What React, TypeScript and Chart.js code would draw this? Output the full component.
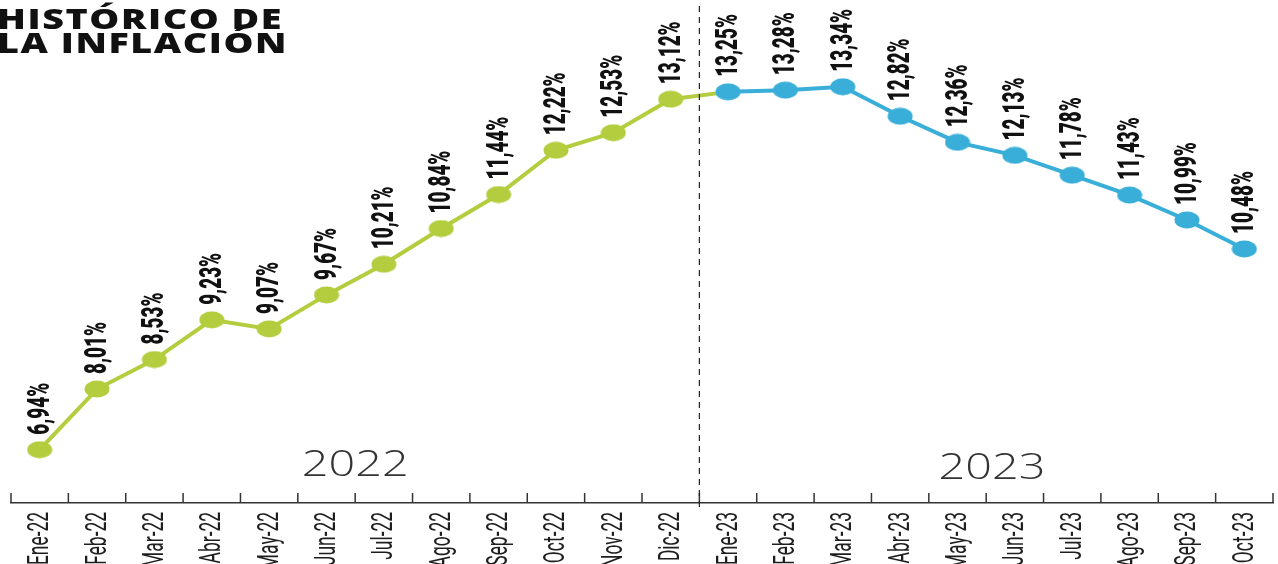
import React, { useEffect, useRef } from "react";
import { Chart, registerables } from "chart.js";

Chart.register(...registerables);

const categories = [
  "Ene-22", "Feb-22", "Mar-22", "Abr-22", "May-22", "Jun-22", "Jul-22", "Ago-22",
  "Sep-22", "Oct-22", "Nov-22", "Dic-22", "Ene-23", "Feb-23", "Mar-23", "Abr-23",
  "May-23", "Jun-23", "Jul-23", "Ago-23", "Sep-23", "Oct-23",
];
const inflation = [
  6.94, 8.01, 8.53, 9.23, 9.07, 9.67, 10.21, 10.84, 11.44, 12.22, 12.53, 13.12,
  13.25, 13.28, 13.34, 12.82, 12.36, 12.13, 11.78, 11.43, 10.99, 10.48,
];
const yearLabels = ["2022", "2023"];
const yearCenters = [5.5, 16.6];
const splitIndex = 12;

const GREEN = "#b3cd3e";
const BLUE = "#38aed8";
const FONT = "Roboto, 'Noto Sans', sans-serif";

function ellipse(color: string): HTMLCanvasElement {
  const c = document.createElement("canvas");
  c.width = 26;
  c.height = 18;
  const g = c.getContext("2d") as CanvasRenderingContext2D;
  g.fillStyle = color;
  g.beginPath();
  g.ellipse(13, 9, 12.5, 8.5, 0, 0, Math.PI * 2);
  g.fill();
  return c;
}

const overlayPlugin = {
  id: "overlay",
  afterDraw(chart: any) {
    const ctx = chart.ctx;
    const xs = chart.scales.x;
    const area = chart.chartArea;
    const n = categories.length;
    const step = (xs.right - xs.left) / n;
    ctx.save();
    // upward ticks at category boundaries
    ctx.strokeStyle = "#333";
    ctx.lineWidth = 1.5;
    for (let i = 0; i <= n; i++) {
      const x = xs.left + i * step;
      ctx.beginPath();
      ctx.moveTo(x, area.bottom - 10);
      ctx.lineTo(x, area.bottom);
      ctx.stroke();
    }
    // dashed divider between years
    const xd = xs.left + splitIndex * step;
    ctx.setLineDash([6, 5]);
    ctx.lineWidth = 1.2;
    ctx.strokeStyle = "#222";
    ctx.beginPath();
    ctx.moveTo(xd, 6);
    ctx.lineTo(xd, area.bottom + 4);
    ctx.stroke();
    ctx.setLineDash([]);
    // category labels, rotated and condensed
    ctx.fillStyle = "#1e1e1e";
    ctx.font = `400 30px ${FONT}`;
    ctx.textAlign = "right";
    ctx.textBaseline = "middle";
    categories.forEach((t, i) => {
      const x = xs.getPixelForTick(i);
      ctx.save();
      ctx.translate(x + 1, area.bottom + 9);
      ctx.rotate(-Math.PI / 2);
      ctx.scale(0.58, 1);
      ctx.fillText(t, 0, 0);
      ctx.restore();
    });
    // year labels
    ctx.fillStyle = "#333";
    ctx.font = "300 36px 'Open Sans', sans-serif";
    ctx.textAlign = "center";
    ctx.textBaseline = "alphabetic";
    yearLabels.forEach((t, i) => {
      const x = xs.left + (yearCenters[i] + 0.5) * step;
      ctx.save();
      ctx.translate(x, area.bottom - 27 + (i === 1 ? 3 : 0));
      ctx.scale(1.3, 1);
      ctx.fillText(t, 0, 0);
      ctx.restore();
    });
    // data labels, rotated
    const meta = chart.getDatasetMeta(0);
    ctx.font = `900 32px ${FONT}`;
    ctx.fillStyle = "#111";
    ctx.textAlign = "left";
    ctx.textBaseline = "middle";
    meta.data.forEach((pt: any, i: number) => {
      const label = inflation[i].toFixed(2).replace(".", ",") + "%";
      ctx.save();
      ctx.translate(pt.x + 1, pt.y - 15);
      ctx.rotate(-Math.PI / 2);
      ctx.scale(0.59, 1);
      ctx.fillText(label, 0, 0);
      ctx.restore();
    });
    ctx.restore();
  },
};

export default function App() {
  const ref = useRef<HTMLCanvasElement | null>(null);
  useEffect(() => {
    document.body.style.margin = "0";
    const styles = inflation.map((_, i) => ellipse(i < splitIndex ? GREEN : BLUE));
    const chart = new Chart(ref.current as HTMLCanvasElement, {
      type: "line",
      data: {
        labels: categories,
        datasets: [
          {
            data: inflation,
            borderColor: GREEN,
            borderWidth: 4,
            pointStyle: styles as any,
            pointRadius: 10,
            pointHoverRadius: 10,
            tension: 0,
            clip: false as any,
            segment: {
              borderColor: (c: any) => (c.p0DataIndex >= splitIndex ? BLUE : GREEN),
            },
          },
        ],
      },
      options: {
        animation: false,
        responsive: false,
        maintainAspectRatio: false,
        layout: { autoPadding: false, padding: { left: 11, right: 5, top: 0, bottom: 0 } },
        plugins: { legend: { display: false }, tooltip: { enabled: false } },
        scales: {
          x: {
            offset: true,
            grid: { display: false, drawTicks: false },
            border: { display: true, color: "#333", width: 1.5 },
            afterFit: (s: any) => {
              s.height = 61;
            },
            ticks: { display: false },
          },
          y: {
            display: false,
            min: 6.0,
            max: 14.87,
          },
        },
      },
      plugins: [overlayPlugin],
    });
    return () => chart.destroy();
  }, []);

  return (
    <div style={{ position: "relative", width: 1278, height: 564, overflow: "hidden", background: "#fff" }}>
      <canvas ref={ref} width={1278} height={564} style={{ position: "absolute", left: 0, top: 0 }} />
      <div
        style={{
          position: "absolute",
          left: -3,
          top: 6,
          fontFamily: "'Open Sans', sans-serif",
          fontWeight: 800,
          fontSize: 29,
          lineHeight: "24px",
          letterSpacing: 1.2,
          color: "#111",
          transform: "scaleX(1.3)",
          transformOrigin: "left top",
          whiteSpace: "nowrap",
        }}
      >
        HISTÓRICO DE
        <br />
        LA INFLACIÓN
      </div>
    </div>
  );
}
